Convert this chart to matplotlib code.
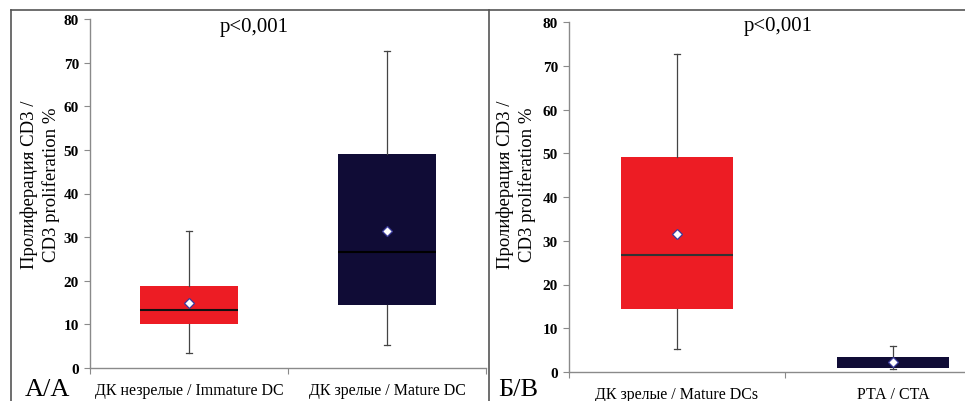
import matplotlib.pyplot as plt
from matplotlib.lines import Line2D

plt.rcParams['font.family'] = ['Liberation Serif', 'DejaVu Serif']

# Panel A data
labels_a = ["ДК незрелые / Immature DC", "ДК зрелые / Mature DC"]
q1_a = [10.0, 14.5]
med_a = [13.3, 26.7]
q3_a = [18.7, 49.0]
lo_a = [3.5, 5.3]
hi_a = [31.5, 72.7]
mean_a = [15.0, 31.5]

# Panel B data
labels_b = ["ДК зрелые / Mature DCs", "РТА / CTA"]
q1_b = [14.5, 1.0]
med_b = [26.7, 1.8]
q3_b = [49.2, 3.5]
lo_b = [5.3, 0.7]
hi_b = [72.7, 6.0]
mean_b = [31.5, 2.3]

RED = "#ED1C24"
NAVY = "#100C36"
GRAY = "#8A8A8A"

fig = plt.figure(figsize=(9.65, 4.02), dpi=100)

# panel frame lines
fig.add_artist(Line2D([11 / 965, 1], [1 - 11 / 402] * 2, color="#555555", lw=1.2))
fig.add_artist(Line2D([11 / 965] * 2, [0, 1 - 11 / 402], color="#555555", lw=1.2))
fig.add_artist(Line2D([489 / 965] * 2, [0, 1 - 11 / 402], color="#555555", lw=1.2))


def panel(ax, labels, q1, med, q3, lo, hi, mean, colors, medcolors, width,
          label_xy, p_xy):
    stats = []
    for i in range(len(labels)):
        stats.append(dict(q1=q1[i], med=med[i], q3=q3[i], whislo=lo[i],
                          whishi=hi[i], mean=mean[i], fliers=[], label=labels[i]))
    pos = [0.5, 1.5]
    b = ax.bxp(stats, positions=pos, widths=width, patch_artist=True,
               showmeans=True, showfliers=False,
               whiskerprops=dict(color="#444444", lw=0.9),
               capprops=dict(color="#444444", lw=0.9),
               meanprops=dict(marker="D", markersize=5, markerfacecolor="white",
                              markeredgecolor="#3A3A9A", markeredgewidth=0.9),
               boxprops=dict(lw=0))
    for i, patch in enumerate(b["boxes"]):
        patch.set_facecolor(colors[i])
        patch.set_edgecolor("none")
    for i, m in enumerate(b["medians"]):
        m.set_color(medcolors[i])
        m.set_linewidth(1.5)
    for c in b["caps"]:
        xd = c.get_xdata()
        cx = (xd[0] + xd[1]) / 2
        c.set_xdata([cx - 0.015, cx + 0.015])
    ax.set_xlim(0, 2)
    ax.set_ylim(0, 80)
    ax.set_yticks(range(0, 81, 10))
    ax.set_xticks([0, 1, 2])
    ax.set_xticklabels([])
    ax.set_xticks(pos, minor=True)
    ax.set_xticklabels(labels, minor=True, fontsize=11.5)
    ax.tick_params(axis="x", which="minor", length=0, pad=10)
    ax.tick_params(axis="x", which="major", length=4, color=GRAY)
    ax.tick_params(axis="y", length=4, color=GRAY, labelsize=11, pad=4)
    for t in ax.get_yticklabels():
        t.set_fontweight("bold")
    for s in ["top", "right"]:
        ax.spines[s].set_visible(False)
    for s in ["left", "bottom"]:
        ax.spines[s].set_color(GRAY)
        ax.spines[s].set_linewidth(1.0)
    ax.set_ylabel("Пролиферация CD3 /\nCD3 proliferation %", fontsize=13.5,
                  linespacing=1.25)
    ax.yaxis.set_label_coords(*label_xy)
    ax.text(p_xy[0], p_xy[1], "p<0,001", fontsize=15, ha="center", va="center")


ax_a = fig.add_axes([90 / 965, 1 - 369 / 402, 396 / 965, 349 / 402])
ax_b = fig.add_axes([569 / 965, 1 - 373 / 402, 432 / 965, 350 / 402])

panel(ax_a, labels_a, q1_a, med_a, q3_a, lo_a, hi_a, mean_a,
      [RED, NAVY], ["#111111", "#000000"], 0.49, (-0.077, 0.527), (0.83, 78.2))
panel(ax_b, labels_b, q1_b, med_b, q3_b, lo_b, hi_b, mean_b,
      [RED, NAVY], ["#333333", NAVY], 0.52, (-0.077, 0.537), (0.97, 79.1))

fig.text(25 / 965, 1 - 390 / 402, "А/А", fontsize=19, va="center", ha="left")
fig.text(498 / 965, 1 - 390 / 402, "Б/В", fontsize=19, va="center", ha="left")

fig.savefig("out.png", dpi=100)
